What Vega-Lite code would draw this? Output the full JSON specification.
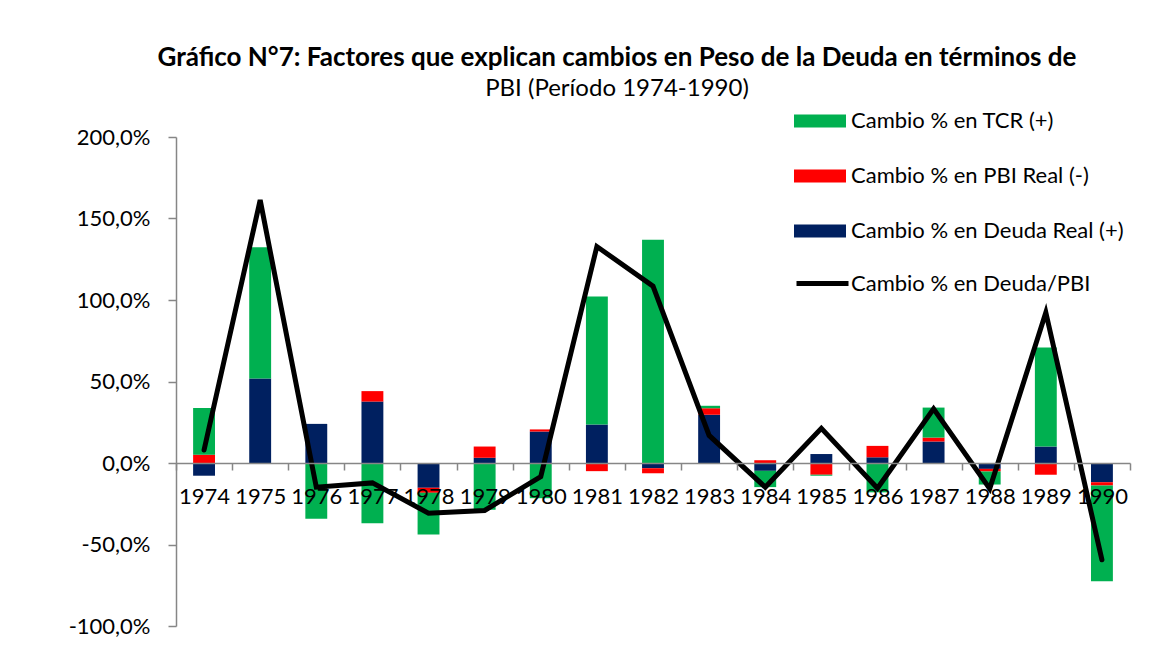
{
  "$schema": "https://vega.github.io/schema/vega-lite/v6.json",
  "autosize": {"type": "none"},
  "padding": {"left": 176, "top": 137, "right": 45, "bottom": 25},
  "width": 954,
  "height": 489,
  "background": "white",
  "title": {
    "text": "Gráfico N°7: Factores que explican cambios en Peso de la Deuda en términos de",
    "subtitle": "PBI (Período 1974-1990)",
    "anchor": "middle",
    "frame": "group",
    "dx": -36,
    "offset": -6,
    "font": "Lato",
    "fontSize": 26,
    "fontWeight": "bold",
    "color": "black",
    "subtitleFont": "Lato",
    "subtitleFontSize": 24,
    "subtitleColor": "black",
    "subtitlePadding": 6
  },
  "config": {
    "view": {"stroke": null},
    "locale": {
      "number": {"decimal": ",", "thousands": ".", "grouping": [3], "currency": ["", ""], "minus": "-"}
    },
    "axis": {"labelFont": "Lato", "labelFontSize": 22, "labelColor": "black", "domainColor": "#868686", "tickColor": "#868686", "grid": false, "title": null},
    "legend": {"labelFont": "Lato", "labelFontSize": 22, "labelColor": "black", "labelLimit": 500}
  },
  "datasets": {
    "barras": [
      {"anio": "1974", "serie": "Cambio % en Deuda Real (+)", "valor": -0.078},
      {"anio": "1974", "serie": "Cambio % en PBI Real (-)", "valor": 0.051},
      {"anio": "1974", "serie": "Cambio % en TCR (+)", "valor": 0.286},
      {"anio": "1975", "serie": "Cambio % en Deuda Real (+)", "valor": 0.519},
      {"anio": "1975", "serie": "Cambio % en PBI Real (-)", "valor": -0.003},
      {"anio": "1975", "serie": "Cambio % en TCR (+)", "valor": 0.804},
      {"anio": "1976", "serie": "Cambio % en Deuda Real (+)", "valor": 0.240},
      {"anio": "1976", "serie": "Cambio % en PBI Real (-)", "valor": 0.0},
      {"anio": "1976", "serie": "Cambio % en TCR (+)", "valor": -0.342},
      {"anio": "1977", "serie": "Cambio % en Deuda Real (+)", "valor": 0.377},
      {"anio": "1977", "serie": "Cambio % en PBI Real (-)", "valor": 0.064},
      {"anio": "1977", "serie": "Cambio % en TCR (+)", "valor": -0.369},
      {"anio": "1978", "serie": "Cambio % en Deuda Real (+)", "valor": -0.152},
      {"anio": "1978", "serie": "Cambio % en PBI Real (-)", "valor": -0.031},
      {"anio": "1978", "serie": "Cambio % en TCR (+)", "valor": -0.256},
      {"anio": "1979", "serie": "Cambio % en Deuda Real (+)", "valor": 0.032},
      {"anio": "1979", "serie": "Cambio % en PBI Real (-)", "valor": 0.069},
      {"anio": "1979", "serie": "Cambio % en TCR (+)", "valor": -0.287},
      {"anio": "1980", "serie": "Cambio % en Deuda Real (+)", "valor": 0.193},
      {"anio": "1980", "serie": "Cambio % en PBI Real (-)", "valor": 0.013},
      {"anio": "1980", "serie": "Cambio % en TCR (+)", "valor": -0.216},
      {"anio": "1981", "serie": "Cambio % en Deuda Real (+)", "valor": 0.236},
      {"anio": "1981", "serie": "Cambio % en PBI Real (-)", "valor": -0.050},
      {"anio": "1981", "serie": "Cambio % en TCR (+)", "valor": 0.785},
      {"anio": "1982", "serie": "Cambio % en Deuda Real (+)", "valor": -0.032},
      {"anio": "1982", "serie": "Cambio % en PBI Real (-)", "valor": -0.031},
      {"anio": "1982", "serie": "Cambio % en TCR (+)", "valor": 1.369},
      {"anio": "1983", "serie": "Cambio % en Deuda Real (+)", "valor": 0.296},
      {"anio": "1983", "serie": "Cambio % en PBI Real (-)", "valor": 0.040},
      {"anio": "1983", "serie": "Cambio % en TCR (+)", "valor": 0.015},
      {"anio": "1984", "serie": "Cambio % en Deuda Real (+)", "valor": -0.048},
      {"anio": "1984", "serie": "Cambio % en PBI Real (-)", "valor": 0.017},
      {"anio": "1984", "serie": "Cambio % en TCR (+)", "valor": -0.100},
      {"anio": "1985", "serie": "Cambio % en Deuda Real (+)", "valor": 0.055},
      {"anio": "1985", "serie": "Cambio % en PBI Real (-)", "valor": -0.072},
      {"anio": "1985", "serie": "Cambio % en TCR (+)", "valor": -0.006},
      {"anio": "1986", "serie": "Cambio % en Deuda Real (+)", "valor": 0.035},
      {"anio": "1986", "serie": "Cambio % en PBI Real (-)", "valor": 0.070},
      {"anio": "1986", "serie": "Cambio % en TCR (+)", "valor": -0.180},
      {"anio": "1987", "serie": "Cambio % en Deuda Real (+)", "valor": 0.132},
      {"anio": "1987", "serie": "Cambio % en PBI Real (-)", "valor": 0.024},
      {"anio": "1987", "serie": "Cambio % en TCR (+)", "valor": 0.184},
      {"anio": "1988", "serie": "Cambio % en Deuda Real (+)", "valor": -0.036},
      {"anio": "1988", "serie": "Cambio % en PBI Real (-)", "valor": -0.016},
      {"anio": "1988", "serie": "Cambio % en TCR (+)", "valor": -0.080},
      {"anio": "1989", "serie": "Cambio % en Deuda Real (+)", "valor": 0.101},
      {"anio": "1989", "serie": "Cambio % en PBI Real (-)", "valor": -0.072},
      {"anio": "1989", "serie": "Cambio % en TCR (+)", "valor": 0.608},
      {"anio": "1990", "serie": "Cambio % en Deuda Real (+)", "valor": -0.118},
      {"anio": "1990", "serie": "Cambio % en PBI Real (-)", "valor": -0.020},
      {"anio": "1990", "serie": "Cambio % en TCR (+)", "valor": -0.587}
    ],
    "linea": [
      {"anio": "1974", "serie": "Cambio % en Deuda/PBI", "valor": 0.080},
      {"anio": "1975", "serie": "Cambio % en Deuda/PBI", "valor": 1.613},
      {"anio": "1976", "serie": "Cambio % en Deuda/PBI", "valor": -0.148},
      {"anio": "1977", "serie": "Cambio % en Deuda/PBI", "valor": -0.122},
      {"anio": "1978", "serie": "Cambio % en Deuda/PBI", "valor": -0.308},
      {"anio": "1979", "serie": "Cambio % en Deuda/PBI", "valor": -0.291},
      {"anio": "1980", "serie": "Cambio % en Deuda/PBI", "valor": -0.083},
      {"anio": "1981", "serie": "Cambio % en Deuda/PBI", "valor": 1.328},
      {"anio": "1982", "serie": "Cambio % en Deuda/PBI", "valor": 1.085},
      {"anio": "1983", "serie": "Cambio % en Deuda/PBI", "valor": 0.169},
      {"anio": "1984", "serie": "Cambio % en Deuda/PBI", "valor": -0.148},
      {"anio": "1985", "serie": "Cambio % en Deuda/PBI", "valor": 0.213},
      {"anio": "1986", "serie": "Cambio % en Deuda/PBI", "valor": -0.155},
      {"anio": "1987", "serie": "Cambio % en Deuda/PBI", "valor": 0.332},
      {"anio": "1988", "serie": "Cambio % en Deuda/PBI", "valor": -0.158},
      {"anio": "1989", "serie": "Cambio % en Deuda/PBI", "valor": 0.923},
      {"anio": "1990", "serie": "Cambio % en Deuda/PBI", "valor": -0.594}
    ]
  },
  "layer": [
    {
      "data": {"name": "barras"},
      "mark": {"type": "bar", "width": {"band": 0.39}},
      "encoding": {
        "x": {
          "field": "anio", "type": "ordinal",
          "scale": {"paddingInner": 0, "paddingOuter": 0},
          "axis": {"labelAngle": 0, "offset": -163, "tickBand": "extent", "tickSize": 7, "labelPadding": 16, "labelOverlap": false, "labelBound": false, "domainWidth": 1.5, "tickWidth": 1.5, "zindex": 1}
        },
        "y": {
          "field": "valor", "type": "quantitative", "stack": "zero",
          "scale": {"domain": [-1, 2], "nice": false},
          "axis": {"values": [-1, -0.5, 0, 0.5, 1, 1.5, 2], "format": ".1%", "tickSize": 8, "labelPadding": 18, "domainWidth": 1.5, "tickWidth": 1.5}
        },
        "color": {
          "field": "serie", "type": "nominal",
          "scale": {
            "domain": ["Cambio % en TCR (+)", "Cambio % en PBI Real (-)", "Cambio % en Deuda Real (+)"],
            "range": ["#00B050", "#FF0000", "#002060"]
          },
          "legend": {
            "title": null, "orient": "none", "legendX": 618, "legendY": -42,
            "symbolType": "M-1,-0.25H1V0.25H-1Z", "symbolSize": 2704, "symbolStrokeWidth": 0,
            "labelOffset": 5, "rowPadding": 18, "padding": 0
          }
        },
        "order": {"field": "serie", "sort": "ascending"}
      }
    },
    {
      "data": {"name": "linea"},
      "mark": {"type": "line", "strokeWidth": 5, "strokeCap": "round", "strokeJoin": "miter"},
      "encoding": {
        "x": {"field": "anio", "type": "ordinal"},
        "y": {"field": "valor", "type": "quantitative"},
        "stroke": {
          "field": "serie", "type": "nominal",
          "scale": {"range": ["black"]},
          "legend": {
            "title": null, "orient": "none", "legendX": 618, "legendY": 118,
            "symbolType": "M-1,0H1", "symbolSize": 2704, "symbolStrokeWidth": 5,
            "labelOffset": 0, "padding": 0
          }
        }
      }
    }
  ]
}
